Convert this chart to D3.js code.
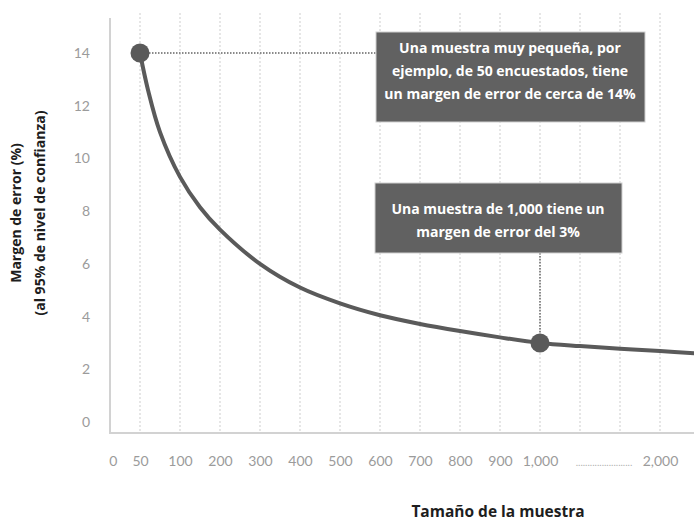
<!DOCTYPE html>
<html>
<head>
<meta charset="utf-8">
<script src="https://cdn.jsdelivr.net/npm/d3@7/dist/d3.min.js"></script>
<style>
  html, body { margin: 0; padding: 0; background: #fff; }
  svg { display: block; }
</style>
</head>
<body>
<script>
// Margin of error (95% confidence) as a function of sample size
const sampleSizes   = [50, 60, 75, 100, 150, 200, 300, 400, 500, 600, 700, 800, 900, 1000, 1333, 1667, 2000, 2300];
const marginOfError = [14.0, 12.6, 11.0, 9.3, 8.15, 7.3, 6.0, 5.1, 4.5, 4.05, 3.72, 3.45, 3.21, 3.0, 2.88, 2.78, 2.69, 2.6];

// x axis: ticks placed on evenly spaced slots (axis is not to scale)
const xTickValues = [0, 50, 100, 200, 300, 400, 500, 600, 700, 800, 900, 1000, 2000];
const xTickLabels = ["0", "50", "100", "200", "300", "400", "500", "600", "700", "800", "900", "1,000", "2,000"];
const xTickSlots  = [-0.68, 0, 1, 2, 3, 4, 5, 6, 7, 8, 9, 10, 13];
const gridSlots   = d3.range(0, 14);

const yTickValues = [0, 2, 4, 6, 8, 10, 12, 14];

// highlighted points
const highlights = [
  { n: 50,   moe: 14 },
  { n: 1000, moe: 3 }
];

const W = 694, H = 527;
const svg = d3.select("body").append("svg").attr("width", W).attr("height", H);

const slot = d3.scaleLinear().domain([0, 1]).range([140, 180]);
const x = d3.scaleLinear().domain(xTickValues).range(xTickSlots.map(s => slot(s)));
const y = d3.scaleLinear().domain([0, 14]).range([422, 53]);

const plotLeft = 110, plotBottom = 433, plotTop = 18, plotRight = W + 20;

// vertical dotted grid
svg.append("g").selectAll("line").data(gridSlots).join("line")
  .attr("x1", d => slot(d)).attr("x2", d => slot(d))
  .attr("y1", 13).attr("y2", plotBottom)
  .attr("stroke", "#d6d6d6").attr("stroke-width", 1.2)
  .attr("stroke-dasharray", "2,2");

// frame lines
svg.append("line").attr("x1", plotLeft).attr("x2", plotLeft)
  .attr("y1", plotTop).attr("y2", plotBottom)
  .attr("stroke", "#d2d2d2").attr("stroke-width", 2);
svg.append("line").attr("x1", plotLeft - 1).attr("x2", plotRight)
  .attr("y1", plotBottom).attr("y2", plotBottom)
  .attr("stroke", "#d2d2d2").attr("stroke-width", 2);

// y tick labels
const yAxis = d3.axisLeft(y).tickValues(yTickValues).tickSize(0).tickPadding(0);
const gy = svg.append("g").attr("transform", `translate(${plotLeft - 20},0)`).call(yAxis);
gy.select(".domain").remove();
gy.selectAll("text")
  .attr("fill", "#9b9b9b")
  .style("font-family", "Lato, 'Open Sans', sans-serif")
  .style("font-size", "14px");

// x tick labels
const xAxis = d3.axisBottom(x).tickValues(xTickValues)
  .tickFormat((d, i) => xTickLabels[i]).tickSize(0).tickPadding(0);
const gx = svg.append("g").attr("transform", `translate(0,${plotBottom + 23})`).call(xAxis);
gx.select(".domain").remove();
gx.selectAll("text")
  .attr("fill", "#9b9b9b")
  .style("font-family", "Lato, 'Open Sans', sans-serif")
  .style("font-size", "14px");

// axis break marker between 1,000 and 2,000
svg.append("text")
  .attr("x", slot(11.6)).attr("y", plotBottom + 33)
  .attr("text-anchor", "middle")
  .attr("fill", "#b0b0b0")
  .style("font-family", "Lato, sans-serif")
  .style("font-size", "10px")
  .text("........................");

// guide lines from highlighted points to notes
const boxFill = "#616161";
const p0 = highlights[0], p1 = highlights[1];
svg.append("line")
  .attr("x1", x(p0.n)).attr("x2", 376)
  .attr("y1", y(p0.moe)).attr("y2", y(p0.moe))
  .attr("stroke", "#8a8a8a").attr("stroke-width", 2).attr("stroke-dasharray", "1.5,1.5");
svg.append("line")
  .attr("x1", x(p1.n)).attr("x2", x(p1.n))
  .attr("y1", 253).attr("y2", y(p1.moe))
  .attr("stroke", "#8a8a8a").attr("stroke-width", 2).attr("stroke-dasharray", "1.5,1.5");

// curve
const line = d3.line()
  .x((d, i) => x(sampleSizes[i]))
  .y(d => y(d))
  .curve(d3.curveCatmullRom.alpha(0.5));
svg.append("path").datum(marginOfError)
  .attr("d", line)
  .attr("fill", "none")
  .attr("stroke", "#5a5a5a")
  .attr("stroke-width", 4)
  .attr("stroke-linecap", "round");

// highlighted dots
svg.append("g").selectAll("circle").data(highlights).join("circle")
  .attr("cx", d => x(d.n)).attr("cy", d => y(d.moe)).attr("r", 9.5)
  .attr("fill", "#5a5a5a");

// notes
const notes = [
  { x: 376, y: 32, w: 269, h: 90, cx: 510, lines: [
      "Una muestra muy pequeña, por",
      "ejemplo, de 50 encuestados, tiene",
      "un margen de error de cerca de 14%"], first: 49, step: 23 },
  { x: 375, y: 183, w: 247, h: 70, cx: 498, lines: [
      "Una muestra de 1,000 tiene un",
      "margen de error del 3%"], first: 210, step: 23 }
];
notes.forEach(n => {
  svg.append("rect").attr("x", n.x).attr("y", n.y).attr("width", n.w).attr("height", n.h)
    .attr("fill", boxFill).attr("stroke", "#d0d0d0").attr("stroke-width", 1);
  svg.append("g").selectAll("text").data(n.lines).join("text")
    .attr("x", n.cx).attr("y", (d, i) => n.first + i * n.step)
    .attr("text-anchor", "middle").attr("dominant-baseline", "middle")
    .attr("fill", "#fff")
    .style("font-family", "'Open Sans', sans-serif")
    .style("font-weight", "700")
    .style("font-size", "14px")
    .text(d => d);
});

// axis titles
const yTitle = svg.append("text")
  .attr("transform", "translate(31,213) rotate(-90)")
  .attr("text-anchor", "middle")
  .attr("fill", "#1e1e1e")
  .style("font-family", "'Open Sans', sans-serif")
  .style("font-weight", "700")
  .style("font-size", "14px");
yTitle.append("tspan").attr("x", 0).attr("dy", "-0.7em").text("Margen de error (%)");
yTitle.append("tspan").attr("x", 0).attr("dy", "1.7em").text("(al 95% de nivel de confianza)");

svg.append("text")
  .attr("x", 498).attr("y", 513)
  .attr("text-anchor", "middle").attr("dominant-baseline", "middle")
  .attr("fill", "#1e1e1e")
  .style("font-family", "'Open Sans', sans-serif")
  .style("font-weight", "700")
  .style("font-size", "15.5px")
  .text("Tamaño de la muestra");
</script>
</body>
</html>
